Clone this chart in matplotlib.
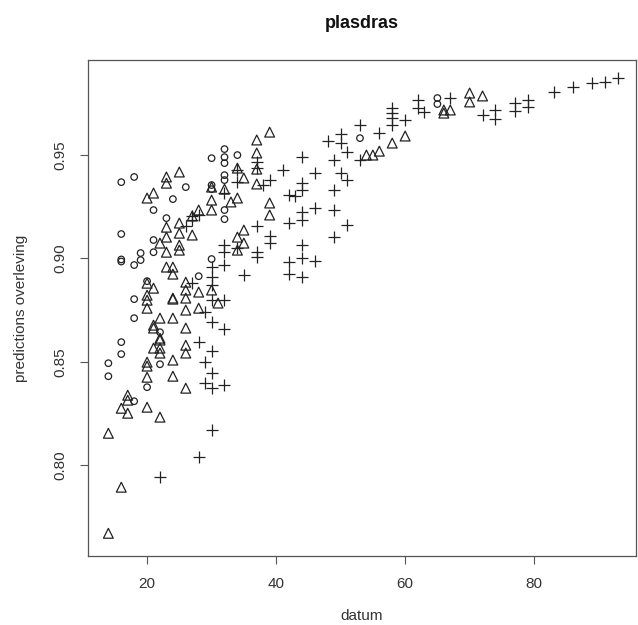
import matplotlib
matplotlib.use("Agg")
import matplotlib.pyplot as plt

# R-style scatter: three groups, pch 1 (circle), 2 (triangle), 3 (plus)
plt.rcParams['font.family'] = ['Liberation Sans', 'DejaVu Sans']

circ_x = [16, 18, 26, 24, 21, 23, 16, 21, 21, 19, 16, 16, 19, 18, 20, 18, 18,
          16, 16, 14, 14, 22, 22, 20, 18, 30, 32, 32, 32, 34, 32, 32, 30, 30,
          32, 32, 30, 28, 53, 65, 65]
circ_y = [0.9369, 0.9394, 0.9345, 0.9287, 0.9234, 0.9195, 0.9118, 0.9089,
          0.9030, 0.9026, 0.8985, 0.8995, 0.8992, 0.8968, 0.8890, 0.8803,
          0.8711, 0.8595, 0.8537, 0.8493, 0.8430, 0.8643, 0.8488, 0.8377,
          0.8309, 0.9485, 0.9529, 0.9490, 0.9461, 0.9500, 0.9403, 0.9379,
          0.9355, 0.9335, 0.9234, 0.9190, 0.8997, 0.8914, 0.9582, 0.9776,
          0.9747]

tri_x = [14, 16, 14, 20, 22, 17, 16, 17, 17, 20, 20, 20, 24, 24, 22, 22, 22,
         21, 21, 22, 24, 24, 20, 20, 20, 21, 20, 23, 25, 23, 21, 20, 28, 27,
         25, 23, 23, 25, 27, 25, 25, 22, 23, 23, 24, 24, 26, 26, 28, 24, 26,
         21, 30, 30, 30, 33, 34, 32, 34, 35, 37, 37, 37, 37, 35, 34, 35, 34,
         30, 31, 28, 26, 26, 22, 26, 26, 26, 39, 39, 39, 54, 55, 56, 58, 60,
         66, 66, 67, 70, 70, 72]
tri_y = [0.8154, 0.7893, 0.7670, 0.8280, 0.8232, 0.8338, 0.8275, 0.8251,
         0.8314, 0.8425, 0.8479, 0.8498, 0.8430, 0.8508, 0.8542, 0.8566,
         0.8614, 0.8566, 0.8663, 0.8711, 0.8711, 0.8803, 0.8822, 0.8798,
         0.8759, 0.8856, 0.8880, 0.9394, 0.9418, 0.9364, 0.9316, 0.9292,
         0.9234, 0.9205, 0.9171, 0.9151, 0.9103, 0.9122, 0.9113, 0.9064,
         0.9040, 0.9074, 0.9030, 0.8958, 0.8958, 0.8924, 0.8885, 0.8847,
         0.8837, 0.8808, 0.8808, 0.8677, 0.9345, 0.9282, 0.9234, 0.9273,
         0.9292, 0.9335, 0.9437, 0.9389, 0.9573, 0.9510, 0.9432, 0.9360,
         0.9137, 0.9103, 0.9074, 0.9040, 0.8847, 0.8784, 0.8759, 0.8750,
         0.8663, 0.8605, 0.8580, 0.8542, 0.8372, 0.9611, 0.9268, 0.9210,
         0.9500, 0.9500, 0.9519, 0.9558, 0.9592, 0.9718, 0.9703, 0.9718,
         0.9800, 0.9757, 0.9786]

plus_x = [30, 32, 28, 30, 29, 30, 29, 30, 32, 30, 28, 22, 30, 32, 29,
          34, 34, 32, 37, 37, 37, 37, 37, 32, 32, 32, 34, 35, 30, 30, 27, 30,
          28, 27, 53, 56, 58, 58, 58, 60, 50, 48, 50, 51, 49, 53, 44, 41, 46,
          50, 51, 39, 44, 44, 43, 42, 49, 46, 44, 44, 42, 49, 51, 39, 39, 44,
          49, 42, 44, 46, 42, 44, 38, 58, 62, 62, 63, 67, 72, 74, 74, 77, 77,
          79, 79, 83, 86, 89, 91, 93, 26, 27]
plus_y = [0.8692, 0.8658, 0.8595, 0.8551, 0.8498, 0.8445, 0.8396, 0.8372,
          0.8387, 0.8169, 0.8038, 0.7941, 0.8798, 0.8798, 0.8740,
          0.9427, 0.9369, 0.9316, 0.9466, 0.9437, 0.9156, 0.9030, 0.9006,
          0.9064, 0.9030, 0.8968, 0.9050, 0.8919, 0.8958, 0.8909, 0.8880,
          0.8871, 0.9210, 0.9185, 0.9645, 0.9606, 0.9703, 0.9679, 0.9645,
          0.9669, 0.9602, 0.9568, 0.9558, 0.9515, 0.9476, 0.9476, 0.9490,
          0.9427, 0.9413, 0.9413, 0.9379, 0.9379, 0.9364, 0.9331, 0.9302,
          0.9306, 0.9331, 0.9243, 0.9224, 0.9185, 0.9171, 0.9234, 0.9161,
          0.9108, 0.9074, 0.9064, 0.9103, 0.8982, 0.9001, 0.8987, 0.8924,
          0.8909, 0.9355, 0.9727, 0.9766, 0.9727, 0.9708, 0.9776, 0.9694,
          0.9718, 0.9674, 0.9752, 0.9713, 0.9766, 0.9732, 0.9805, 0.9829,
          0.9848, 0.9853, 0.9873, 0.9156, 0.9205]

fig = plt.figure(figsize=(6.38, 6.25), dpi=100)
ax = fig.add_axes([0.138, 0.110, 0.859, 0.794])

mk = '#222222'
ax.scatter(circ_x, circ_y, marker='o', s=22, facecolors='none',
           edgecolors=mk, linewidths=0.9)
ax.scatter(tri_x, tri_y, marker='^', s=50, facecolors='none',
           edgecolors=mk, linewidths=0.9)
ax.scatter(plus_x, plus_y, marker='+', s=75, color=mk, linewidths=0.9)

ax.set_xlim(10.85, 95.8)
ax.set_ylim(0.7559, 0.9960)
ax.set_xticks([20, 40, 60, 80])
ax.set_yticks([0.80, 0.85, 0.90, 0.95])
ax.set_yticklabels(['0.80', '0.85', '0.90', '0.95'], rotation=90, va='center')

for s in ax.spines.values():
    s.set_color('#555555')
    s.set_linewidth(0.9)
ax.tick_params(direction='out', length=6, width=0.8, color='#555555',
               labelsize=11, labelcolor='#333333', pad=9)

ax.set_xlabel('datum', fontsize=11, color='#333333', labelpad=13)
ax.set_ylabel('predictions overleving', fontsize=11, color='#333333',
              labelpad=18)
fig.text(0.567, 0.962, 'plasdras', ha='center', va='center',
         fontsize=13, fontweight='bold', color='#111111')

fig.savefig('out.png', dpi=100)
